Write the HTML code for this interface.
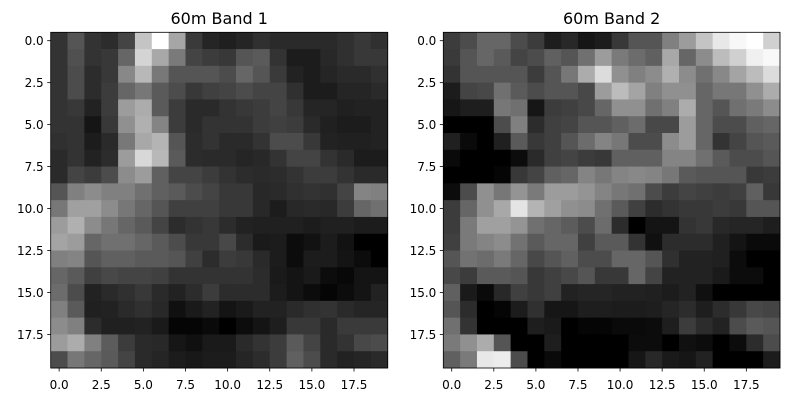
<!DOCTYPE html>
<html><head><meta charset="utf-8"><style>
body{margin:0;background:#fff;width:790px;height:403px;overflow:hidden;font-family:"DejaVu Sans","Liberation Sans",sans-serif}
</style></head><body>
<svg id="chart" width="790" height="403" xmlns="http://www.w3.org/2000/svg" font-family="DejaVu Sans, Liberation Sans, sans-serif"></svg>
<script>
const band1 = [
[0x33,0x55,0x33,0x2c,0x44,0xc4,0xff,0xa6,0x3a,0x25,0x1f,0x25,0x30,0x2a,0x2a,0x2a,0x2a,0x30,0x38,0x30],
[0x33,0x50,0x33,0x38,0x66,0xd4,0xa8,0x7a,0x44,0x3c,0x38,0x55,0x5a,0x33,0x1c,0x1c,0x28,0x30,0x38,0x38],
[0x33,0x4c,0x2c,0x38,0x88,0xb8,0x78,0x55,0x55,0x55,0x4c,0x66,0x55,0x3a,0x22,0x1c,0x25,0x2a,0x2a,0x30],
[0x33,0x4c,0x2c,0x3c,0x66,0x77,0x5a,0x4c,0x38,0x40,0x44,0x4c,0x44,0x44,0x30,0x1c,0x1c,0x25,0x25,0x2a],
[0x33,0x38,0x22,0x3c,0x9c,0xac,0x5a,0x3c,0x2a,0x2a,0x33,0x38,0x3c,0x44,0x38,0x25,0x25,0x20,0x22,0x22],
[0x33,0x33,0x15,0x38,0x90,0xb0,0x84,0x3c,0x2a,0x33,0x33,0x33,0x3c,0x40,0x3c,0x2a,0x20,0x1c,0x1c,0x22],
[0x30,0x33,0x1c,0x2a,0x78,0xa8,0xb4,0x55,0x2c,0x33,0x2a,0x2a,0x33,0x4c,0x4c,0x38,0x22,0x20,0x20,0x22],
[0x2a,0x33,0x22,0x2c,0x9c,0xd8,0xb8,0x5a,0x2c,0x2a,0x2a,0x25,0x28,0x33,0x44,0x44,0x33,0x2a,0x1c,0x1c],
[0x2a,0x44,0x3c,0x4c,0x8c,0x9c,0x60,0x44,0x44,0x3c,0x33,0x2c,0x2a,0x2c,0x33,0x3c,0x3c,0x33,0x2a,0x2a],
[0x55,0x80,0x8c,0x80,0x80,0x70,0x60,0x5a,0x4c,0x44,0x38,0x38,0x28,0x2a,0x30,0x33,0x30,0x44,0x84,0x80],
[0x77,0xa0,0xa0,0x8c,0x77,0x66,0x55,0x40,0x40,0x40,0x38,0x38,0x28,0x1c,0x28,0x2a,0x28,0x3c,0x66,0x70],
[0x9c,0xb0,0x8c,0x77,0x66,0x5a,0x44,0x2c,0x33,0x38,0x2c,0x22,0x20,0x20,0x20,0x1c,0x20,0x20,0x1c,0x1c],
[0xa4,0x9c,0x66,0x70,0x70,0x66,0x5a,0x4c,0x38,0x38,0x48,0x2c,0x1a,0x1c,0x0c,0x12,0x1c,0x12,0x00,0x00],
[0x80,0x84,0x55,0x60,0x60,0x5a,0x5a,0x55,0x40,0x2c,0x3c,0x38,0x2a,0x1c,0x0c,0x1c,0x1c,0x14,0x0c,0x00],
[0x66,0x5a,0x40,0x48,0x44,0x44,0x40,0x33,0x33,0x33,0x33,0x33,0x2c,0x1a,0x14,0x1a,0x0c,0x08,0x14,0x14],
[0x6c,0x4c,0x22,0x2a,0x30,0x38,0x2a,0x22,0x2c,0x3c,0x2c,0x2c,0x2c,0x1c,0x14,0x0c,0x05,0x0c,0x14,0x22],
[0x80,0x5a,0x20,0x22,0x2a,0x30,0x28,0x10,0x1a,0x22,0x14,0x1a,0x22,0x22,0x2a,0x30,0x33,0x2a,0x25,0x25],
[0x8c,0x80,0x2c,0x20,0x20,0x22,0x1a,0x05,0x05,0x0a,0x00,0x0c,0x14,0x1e,0x38,0x38,0x2a,0x3a,0x3a,0x3a],
[0x9c,0xac,0x80,0x5c,0x3c,0x2a,0x28,0x16,0x10,0x1a,0x1a,0x2a,0x33,0x3c,0x5a,0x44,0x2a,0x33,0x48,0x4c],
[0x4c,0x77,0x66,0x5a,0x44,0x2a,0x25,0x1c,0x18,0x1c,0x1c,0x25,0x2c,0x3c,0x60,0x4c,0x2a,0x22,0x25,0x2a]
];
const band2 = [
[0x3c,0x4c,0x66,0x66,0x4c,0x3c,0x1e,0x28,0x16,0x1c,0x38,0x55,0x55,0x80,0x9c,0xc4,0xe8,0xf8,0xff,0xd0],
[0x3a,0x55,0x66,0x5a,0x44,0x4c,0x60,0x55,0x70,0x9c,0x7a,0x6c,0x60,0xa8,0x66,0x8c,0xbc,0xd0,0xf0,0xf8],
[0x33,0x55,0x55,0x55,0x55,0x3c,0x55,0x77,0xac,0xdc,0x90,0x80,0x8c,0xb0,0x8c,0x70,0x88,0xa4,0xbc,0xdc],
[0x1c,0x44,0x48,0x70,0x5a,0x4c,0x55,0x55,0x48,0x9c,0xbc,0xa4,0x80,0x90,0x90,0x66,0x77,0x77,0x90,0xac],
[0x16,0x1e,0x1e,0x77,0x70,0x16,0x3c,0x40,0x48,0x66,0x90,0x90,0x70,0x80,0xac,0x66,0x55,0x70,0x7a,0x8c],
[0x00,0x00,0x00,0x4c,0x80,0x2c,0x40,0x44,0x55,0x55,0x60,0x6c,0x48,0x48,0x9c,0x66,0x4c,0x4c,0x60,0x66],
[0x20,0x0a,0x00,0x20,0x5a,0x38,0x40,0x55,0x6c,0x84,0x77,0x4c,0x4c,0x8c,0x9c,0x66,0x33,0x44,0x55,0x5a],
[0x0a,0x00,0x00,0x00,0x0c,0x2a,0x40,0x44,0x3c,0x38,0x60,0x60,0x60,0x84,0x84,0x70,0x5a,0x4c,0x4c,0x55],
[0x00,0x00,0x00,0x05,0x38,0x44,0x60,0x66,0x84,0x77,0x84,0x88,0x84,0x77,0x5a,0x55,0x55,0x55,0x38,0x3c],
[0x0c,0x4c,0x90,0x77,0x94,0x7a,0x9c,0x9c,0x94,0x84,0x77,0x70,0x4c,0x3c,0x44,0x40,0x3c,0x40,0x60,0x38],
[0x3c,0x66,0x90,0xa8,0xe4,0xb4,0xa0,0x90,0x8c,0x70,0x5a,0x40,0x2c,0x33,0x38,0x38,0x3c,0x38,0x55,0x55],
[0x3c,0x7a,0xa0,0xa0,0x94,0x70,0x66,0x5c,0x4c,0x6c,0x2c,0x00,0x14,0x14,0x33,0x38,0x28,0x25,0x25,0x1e],
[0x40,0x7a,0x84,0x8c,0x72,0x5a,0x66,0x66,0x40,0x5a,0x5a,0x33,0x10,0x2c,0x2c,0x2c,0x20,0x14,0x0a,0x0a],
[0x55,0x72,0x6c,0x7a,0x66,0x48,0x55,0x60,0x4c,0x4c,0x66,0x66,0x55,0x30,0x22,0x22,0x20,0x0c,0x00,0x00],
[0x48,0x3c,0x5a,0x5a,0x55,0x38,0x40,0x48,0x55,0x38,0x38,0x66,0x44,0x22,0x22,0x22,0x1a,0x0c,0x0c,0x00],
[0x60,0x1a,0x0a,0x28,0x40,0x38,0x40,0x22,0x25,0x25,0x22,0x22,0x20,0x1c,0x22,0x10,0x00,0x00,0x00,0x00],
[0x55,0x2c,0x00,0x05,0x1c,0x30,0x16,0x16,0x1e,0x1e,0x1c,0x1c,0x1e,0x25,0x2c,0x1e,0x2c,0x38,0x48,0x44],
[0x70,0x33,0x00,0x00,0x00,0x1e,0x1a,0x00,0x05,0x05,0x0a,0x0a,0x0c,0x1e,0x3c,0x2c,0x22,0x4c,0x5a,0x55],
[0x7a,0x90,0xac,0x55,0x00,0x00,0x1e,0x00,0x00,0x00,0x00,0x0c,0x0c,0x00,0x10,0x0c,0x00,0x0c,0x2c,0x4c],
[0x60,0x7a,0xe8,0xec,0x4c,0x00,0x0a,0x00,0x00,0x00,0x00,0x16,0x28,0x1a,0x16,0x22,0x00,0x00,0x00,0x1c]
];
const titles = ["60m Band 1","60m Band 2"];
const ticks = [0,2.5,5,7.5,10,12.5,15,17.5];
const tickLabels = ["0.0","2.5","5.0","7.5","10.0","12.5","15.0","17.5"];

const NS="http://www.w3.org/2000/svg";
const svg=document.getElementById('chart');
function mk(tag,attrs,parent){const e=document.createElementNS(NS,tag);for(const k in attrs)e.setAttribute(k,attrs[k]);(parent||svg).appendChild(e);return e;}
const panels=[{x0:50.7,x1:387.7,data:band1},{x0:443.3,x1:780,data:band2}];
const y0=32.3,y1=368;
panels.forEach((p,pi)=>{
  const g=mk('g',{});
  
  
  const n=p.data.length, m=p.data[0].length;
  const cw=(p.x1-p.x0)/m, ch=(y1-y0)/n;
  const xs=v=>p.x0+(v+0.5)*cw, ys=v=>y0+(v+0.5)*ch;
  p.data.forEach((row,r)=>row.forEach((v,c)=>{
    const rc=mk('rect',{x:(xs(c)-cw/2).toFixed(2),y:(ys(r)-ch/2).toFixed(2),width:(cw+0.4).toFixed(2),height:(ch+0.4).toFixed(2),fill:`rgb(${v},${v},${v})`},g);
    
    
  }));
  const fr=mk('rect',{x:p.x0,y:y0,width:p.x1-p.x0,height:y1-y0,fill:'none',stroke:'#000','stroke-width':0.8},g);
  
  
  const t=mk('text',{x:(p.x0+p.x1)/2,y:24,'text-anchor':'middle','font-size':'16',fill:'#000'},g);
  t.textContent=titles[pi];
  
  
  ticks.forEach((tv,i)=>{
    const x=xs(tv);
    mk('line',{x1:x,x2:x,y1:y1,y2:y1+3.5,stroke:'#000','stroke-width':0.8},g);
    const tx=mk('text',{x:x,y:y1+21,'text-anchor':'middle','font-size':'12',fill:'#000'},g);
    tx.textContent=tickLabels[i];
    
    
    const y=ys(tv);
    mk('line',{x1:p.x0,x2:p.x0-3.5,y1:y,y2:y,stroke:'#000','stroke-width':0.8},g);
    const ty=mk('text',{x:p.x0-7,y:y+4.4,'text-anchor':'end','font-size':'12',fill:'#000'},g);
    ty.textContent=tickLabels[i];
    
    
  });
});
</script>
</body></html>
